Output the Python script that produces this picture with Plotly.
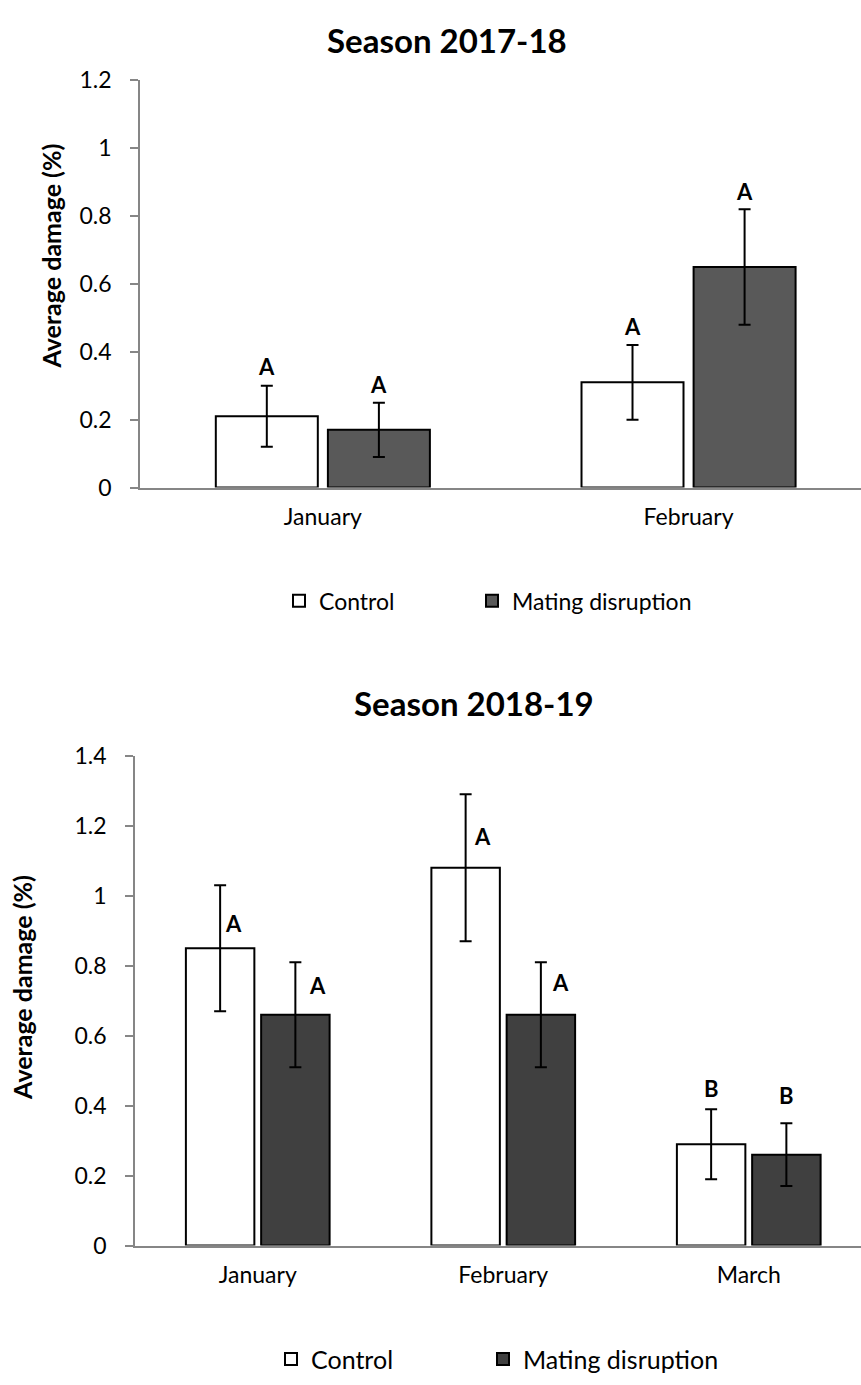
import plotly.graph_objects as go

# ---- data ----
months_1718 = ["January", "February"]
control_1718 = [0.21, 0.31]
control_err_1718 = [0.09, 0.11]
md_1718 = [0.17, 0.65]
md_err_1718 = [0.08, 0.17]
control_letters_1718 = ["A", "A"]
md_letters_1718 = ["A", "A"]

months_1819 = ["January", "February", "March"]
control_1819 = [0.85, 1.08, 0.29]
control_err_1819 = [0.18, 0.21, 0.10]
md_1819 = [0.66, 0.66, 0.26]
md_err_1819 = [0.15, 0.15, 0.09]
control_letters_1819 = ["A", "A", "B"]
md_letters_1819 = ["A", "A", "B"]

y_ticks_1718 = [0, 0.2, 0.4, 0.6, 0.8, 1, 1.2]
y_ticks_1819 = [0, 0.2, 0.4, 0.6, 0.8, 1, 1.2, 1.4]

# ---- style ----
W, H = 861, 1385
FONT = "Lato"
BLACK = "#000000"
AXIS_GREY = "#868686"
MD_FILL_1718 = "#595959"
MD_FILL_1819 = "#404040"
BARGAP = 0.387
SLOT = (1 - BARGAP) / 2          # width of one bar slot in category units

# label offsets (px): (xshift, yshift) relative to the error-bar top
shift_ctrl_1718 = [(0, 19), (0, 19)]
shift_md_1718 = [(0, 18), (0, 18)]
shift_ctrl_1819 = [(13, -38), (17, -42), (0, 21)]
shift_md_1819 = [(22, -23), (20, -20), (0, 28)]


def px_dom_x(left):
    return [left / W, 1.0]


def px_dom_y(top, bottom):
    return [1 - bottom / H, 1 - top / H]


fig = go.Figure()

err_style = dict(type="data", color=BLACK, thickness=2, width=6)
bar_line = dict(color=BLACK, width=2)

fig.add_trace(go.Bar(
    x=months_1718, y=control_1718, name="Control",
    marker=dict(color="#ffffff", line=bar_line),
    error_y=dict(array=control_err_1718, **err_style),
    xaxis="x", yaxis="y", legend="legend"))
fig.add_trace(go.Bar(
    x=months_1718, y=md_1718, name="Mating disruption",
    marker=dict(color=MD_FILL_1718, line=bar_line),
    error_y=dict(array=md_err_1718, **err_style),
    xaxis="x", yaxis="y", legend="legend2"))
fig.add_trace(go.Bar(
    x=months_1819, y=control_1819, name="Control",
    marker=dict(color="#ffffff", line=bar_line),
    error_y=dict(array=control_err_1819, **err_style),
    xaxis="x2", yaxis="y2", legend="legend3"))
fig.add_trace(go.Bar(
    x=months_1819, y=md_1819, name="Mating disruption",
    marker=dict(color=MD_FILL_1819, line=bar_line),
    error_y=dict(array=md_err_1819, **err_style),
    xaxis="x2", yaxis="y2", legend="legend4"))

annotations = []


def add_letters(xref, yref, means, errs, letters, shifts, side):
    for i, (m, e, t, (dx, dy)) in enumerate(zip(means, errs, letters, shifts)):
        annotations.append(dict(
            x=i + side * SLOT / 2, y=m + e, xref=xref, yref=yref,
            text=f"<b>{t}</b>", showarrow=False,
            xanchor="center", yanchor="middle",
            xshift=dx, yshift=dy,
            font=dict(family=FONT, size=22, color=BLACK)))


add_letters("x", "y", control_1718, control_err_1718, control_letters_1718, shift_ctrl_1718, -1)
add_letters("x", "y", md_1718, md_err_1718, md_letters_1718, shift_md_1718, 1)
add_letters("x2", "y2", control_1819, control_err_1819, control_letters_1819, shift_ctrl_1819, -1)
add_letters("x2", "y2", md_1819, md_err_1819, md_letters_1819, shift_md_1819, 1)

# titles
title_font = dict(family=FONT, size=33, color=BLACK)
annotations.append(dict(x=447 / W, y=1 - 26 / H, xref="paper", yref="paper",
                        text="<b>Season 2017-18</b>", showarrow=False,
                        xanchor="center", yanchor="middle", font=title_font))
annotations.append(dict(x=474 / W, y=1 - 702 / H, xref="paper", yref="paper",
                        text="<b>Season 2018-19</b>", showarrow=False,
                        xanchor="center", yanchor="middle", font=title_font))

# y-axis titles
ytitle_font = dict(family=FONT, size=25, color=BLACK)
annotations.append(dict(x=51 / W, y=1 - 246.5 / H, xref="paper", yref="paper",
                        text="<b>Average damage (%)</b>", showarrow=False,
                        textangle=-90, xanchor="center", yanchor="middle",
                        font=ytitle_font))
annotations.append(dict(x=22.5 / W, y=1 - 992.5 / H, xref="paper", yref="paper",
                        text="<b>Average damage (%)</b>", showarrow=False,
                        textangle=-90, xanchor="center", yanchor="middle",
                        font=ytitle_font))

tick_font = dict(family=FONT, size=23, color=BLACK)

common_x = dict(type="category", showline=True, linecolor=AXIS_GREY, linewidth=1.5,
                ticks="", showgrid=False, zeroline=False, tickfont=tick_font,
                ticklabelstandoff=8, fixedrange=True)
common_y = dict(showline=True, linecolor=AXIS_GREY, linewidth=1.5,
                ticks="outside", ticklen=8, tickcolor=AXIS_GREY, tickwidth=1.5,
                showgrid=False, zeroline=False, tickfont=tick_font,
                ticklabelstandoff=14, fixedrange=True)

band_1718 = 365.7
band_1819 = 245.5


def one_item_legend(left_px, center_px, size):
    return dict(orientation="h", x=left_px / W, y=1 - center_px / H,
                xanchor="left", yanchor="middle",
                font=dict(family=FONT, size=size, color=BLACK),
                bgcolor="rgba(0,0,0,0)", borderwidth=0)


fig.update_layout(
    width=W, height=H,
    margin=dict(l=0, r=0, t=0, b=0),
    paper_bgcolor="#ffffff", plot_bgcolor="#ffffff",
    barmode="group", bargap=BARGAP, bargroupgap=0.09,
    showlegend=True,
    xaxis=dict(common_x, domain=px_dom_x(140), anchor="y",
               range=[-0.5, -0.5 + (W - 140) / band_1718]),
    yaxis=dict(common_y, domain=px_dom_y(66.7, 482.3), anchor="x",
               range=[0, 1.2], tickvals=y_ticks_1718,
               ticktext=[f"{v:g}" for v in y_ticks_1718]),
    xaxis2=dict(common_x, domain=px_dom_x(135), anchor="y2",
                range=[-0.5, -0.5 + (W - 135) / band_1819]),
    yaxis2=dict(common_y, domain=px_dom_y(756, 1256), anchor="x2",
                range=[0, 1.4], tickvals=y_ticks_1819,
                ticktext=[f"{v:g}" for v in y_ticks_1819]),
    legend=one_item_legend(279, 598, 23),
    legend2=one_item_legend(472, 598, 23),
    legend3=one_item_legend(271, 1372, 25),
    legend4=one_item_legend(483, 1372, 25),
    annotations=annotations,
)

fig.write_html("out.html")
